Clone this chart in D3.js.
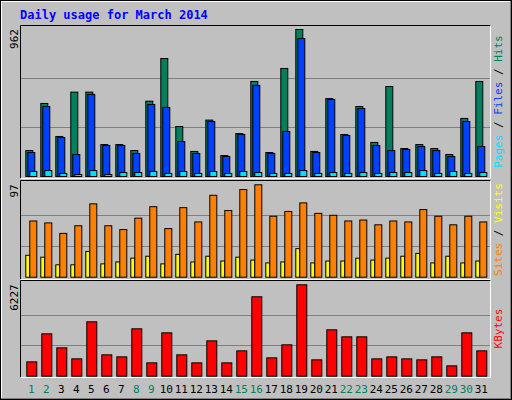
<!DOCTYPE html><html><head><meta charset="utf-8"><script src="https://cdn.jsdelivr.net/npm/d3@7"></script>
<style>body{margin:0;background:#fff}svg{display:block}text{font-family:"DejaVu Sans Mono",monospace}</style></head><body><svg width="512" height="400"></svg><script>
const days=d3.range(1,32);
const weekend=[1,2,8,9,15,16,22,23,29,30];
const hits=[170,478,262,552,552,209,209,170,493,772,327,164,369,137,281,622,157,707,962,164,510,275,458,223,589,183,209,183,144,380,622];
const files=[157,458,255,144,537,203,203,151,471,452,229,151,360,131,275,596,151,295,903,157,504,268,445,203,170,177,196,170,131,360,196];
const pages=[33,39,20,13,39,13,26,26,33,20,33,20,33,20,33,26,20,20,39,20,26,20,26,20,26,26,39,20,33,20,26];
const visits=[59,57,46,54,77,54,50,62,74,51,73,58,86,70,92,97,64,69,78,67,65,59,60,55,59,58,71,64,55,64,58];
const sites=[23,21,13,13,27,14,16,20,22,14,24,16,22,17,21,18,15,16,30,15,17,17,20,18,20,22,25,15,22,15,17];
const kbytes=[977,2887,1932,1182,3705,1455,1318,3228,909,2955,1455,909,2409,909,1727,5410,1250,2137,6227,1114,3159,2682,2682,1182,1318,1182,1114,1318,705,2955,1727];
const svg=d3.select("svg");
svg.append("rect").attr("x",0).attr("y",0).attr("width",512).attr("height",400).attr("fill","#c0c0c0");
svg.append("path").attr("d","M1,399V1H511").attr("stroke","#fff").attr("fill","none").attr("stroke-width",2);
svg.append("path").attr("d","M1,399H511V1").attr("stroke","#808080").attr("fill","none").attr("stroke-width",2);
svg.append("rect").attr("x",0.5).attr("y",0.5).attr("width",511).attr("height",399).attr("fill","none").attr("stroke","#000");
svg.append("text").attr("x",20).attr("y",19).text("Daily usage for March 2014").attr("fill","#0000ff").attr("font-weight","bold").attr("font-size",12);
const x=d3.scaleLinear().domain([1,31]).range([25.3,475.3]);
function panel(y0,y1,base,top,max,label){
  svg.append("rect").attr("x",20.5).attr("y",y0+.5).attr("width",470).attr("height",y1-y0).attr("fill","#c0c0c0");
  svg.append("path").attr("d",`M20.5,${y1+.5}V${y0+.5}H490.5`).attr("stroke","#000").attr("fill","none");
  svg.append("path").attr("d",`M20.5,${y1+.5}H490.5V${y0+.5}`).attr("stroke","#fff").attr("fill","none");
  const y=d3.scaleLinear().domain([0,max]).range([base,top]);
  [max/3,2*max/3].forEach(v=>svg.append("line").attr("x1",21).attr("x2",490).attr("y1",Math.round(y(v))+.5).attr("y2",Math.round(y(v))+.5).attr("stroke","#808080"));
  svg.append("text").attr("transform",`translate(18,${top}) rotate(-90)`).attr("text-anchor","end").attr("font-size",11).text(max);
  let g=svg.append("text").attr("transform",`translate(502,${(y0+y1)/2}) rotate(-90)`).attr("text-anchor","middle").attr("font-size",11);
  label.forEach(([t,c])=>g.append("tspan").attr("fill",c).text(t));
  return y;
}
function bars(y,data,dx,w,color){
  svg.append("g").selectAll("rect").data(data).join("rect")
   .attr("x",(d,i)=>x(days[i])+dx+.5).attr("y",d=>y(d)+.5).attr("width",w).attr("height",d=>y(0)-y(d))
   .attr("fill",color).attr("stroke","#000").attr("stroke-width",1);
}
let y1=panel(25,178,176,29,962,[["Pages","#00e0ff"],[" / ","#000"],["Files","#0040ff"],[" / ","#000"],["Hits","#00805c"]]);
bars(y1,hits,0,7,"#00805c");bars(y1,files,2,7,"#0040ff");bars(y1,pages,4,7,"#00e0ff");
let y2=panel(180,279,276.7,184.3,97,[["Sites","#ff8000"],[" / ","#000"],["Visits","#ffff00"]]);
bars(y2,sites,0,4,"#ffff00");bars(y2,visits,4,7,"#ff8000");
let y3=panel(280,377,375.7,284.3,6227,[["KBytes","#ff0000"]]);
bars(y3,kbytes,1,10,"#ff0000");
svg.append("g").selectAll("text").data(days).join("text").attr("x",d=>x(d)+6).attr("y",393).attr("text-anchor","middle").attr("font-size",11)
  .attr("fill",d=>weekend.includes(d)?"#00805c":"#000").text(d=>d);
</script></body></html>
